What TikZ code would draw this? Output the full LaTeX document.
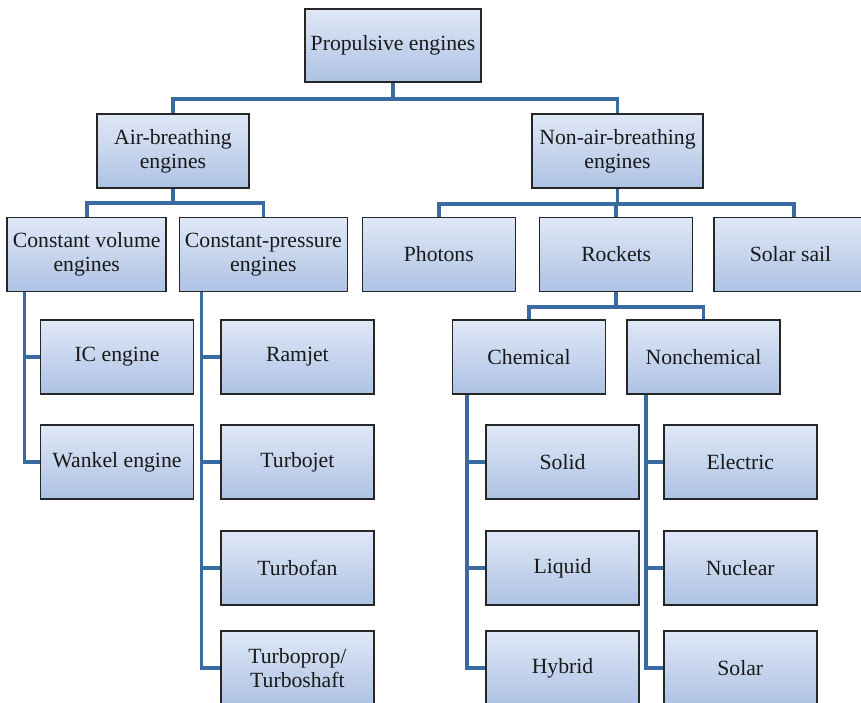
\documentclass[tikz,border=0pt]{standalone}
\usepackage{fontspec}
\setmainfont{Liberation Serif}
\usetikzlibrary{backgrounds}
\definecolor{linec}{HTML}{3A6BA0}
\definecolor{topc}{HTML}{DFE8F6}
\definecolor{botc}{HTML}{AEC2E4}
\begin{document}
\begin{tikzpicture}[x=1pt,y=-1pt,
  box/.style={draw=black!85, line width=1.5pt, top color=topc, bottom color=botc,
    minimum height=74pt, minimum width=153pt, inner sep=0pt, align=center,
    font=\rmfamily\fontsize{21.7}{24}\selectfont, text=black!90},
  conn/.style={draw=linec, line width=3.6pt}]
\useasboundingbox (0,0) rectangle (861,703);
\clip (0,0) rectangle (861,703);
% level 0-2
\node[box, minimum width=176pt, minimum height=73pt] (top) at (393,45.5) {Propulsive engines};
\node[box, minimum width=152pt] (air) at (173,151) {Air-breathing\\engines};
\node[box, minimum width=171pt] (nonair) at (617.5,151) {Non-air-breathing\\engines};
\node[box, minimum width=159pt] (cv) at (86.7,254.5) {Constant volume\\engines};
\node[box, minimum width=168pt] (cp) at (263.3,254.5) {Constant-pressure\\engines};
\node[box] (photons) at (438.8,254.5) {Photons};
\node[box] (rockets) at (616.2,254.5) {Rockets};
\node[box] (sail) at (790.5,254.5) {Solar sail};
\node[box] (chem) at (529,357) {Chemical};
\node[box] (nonchem) at (703.5,357) {Nonchemical};
% lists
\node[box] (ic) at (117,357) {IC engine};
\node[box] (wankel) at (117,462) {Wankel engine};
\node[box] (ramjet) at (297.4,357) {Ramjet};
\node[box] (turbojet) at (297.4,462) {Turbojet};
\node[box] (turbofan) at (297.4,568) {Turbofan};
\node[box] (turboprop) at (297.4,668) {Turboprop/\\Turboshaft};
\node[box] (solid) at (562.5,462) {Solid};
\node[box] (liquid) at (562.5,568) {Liquid};
\node[box] (hybrid) at (562.5,668) {Hybrid};
\node[box] (electric) at (740.3,462) {Electric};
\node[box] (nuclear) at (740.3,568) {Nuclear};
\node[box] (solar) at (740.3,668) {Solar};
\begin{pgfonlayer}{background}
% tree connectors
\draw[conn] (top.south) -- ++(0,16) -| (air.north);
\draw[conn] (top.south) -- ++(0,16) -| (nonair.north);
\draw[conn] (air.south) -- ++(0,14) -| (cv.north);
\draw[conn] (air.south) -- ++(0,14) -| (cp.north);
\draw[conn] (nonair.south) -- ++(0,15) -| (photons.north);
\draw[conn] (nonair.south) -- ++(0,15) -| (rockets.north);
\draw[conn] (nonair.south) -- ++(0,15) -| ([xshift=3.5pt]sail.north);
\draw[conn] (rockets.south) -- ++(0,15) -| (chem.north);
\draw[conn] (rockets.south) -- ++(0,15) -| (nonchem.north);
% list connectors
\draw[conn] (cv.south west) ++(18,0) |- (ic.west);
\draw[conn] (cv.south west) ++(18,0) |- (wankel.west);
\draw[conn] (cp.south west) ++(23,0) |- (ramjet.west);
\draw[conn] (cp.south west) ++(23,0) |- (turbojet.west);
\draw[conn] (cp.south west) ++(23,0) |- (turbofan.west);
\draw[conn] (cp.south west) ++(23,0) |- (turboprop.west);
\draw[conn] (chem.south west) ++(15,0) |- (solid.west);
\draw[conn] (chem.south west) ++(15,0) |- (liquid.west);
\draw[conn] (chem.south west) ++(15,0) |- (hybrid.west);
\draw[conn] (nonchem.south west) ++(19.5,0) |- (electric.west);
\draw[conn] (nonchem.south west) ++(19.5,0) |- (nuclear.west);
\draw[conn] (nonchem.south west) ++(19.5,0) |- (solar.west);
\end{pgfonlayer}
\end{tikzpicture}
\end{document}
